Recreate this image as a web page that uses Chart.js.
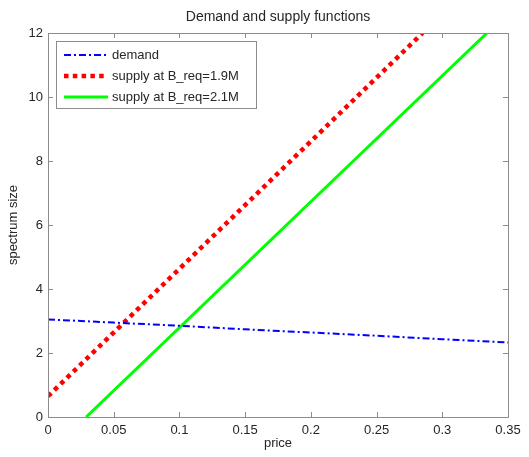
<!DOCTYPE html>
<html>
<head>
<meta charset="utf-8">
<script src="https://cdn.jsdelivr.net/npm/chart.js@4.4.0/dist/chart.umd.min.js"></script>
<style>
  body { margin: 0; background: #fff; }
  canvas { display: block; }
</style>
</head>
<body>
<canvas id="grafico" width="529" height="457"></canvas>
<script>
// datos
const precioDemanda = [0, 0.05, 0.1, 0.15, 0.2, 0.25, 0.3, 0.35];
const demanda = [3.05, 2.95, 2.85, 2.74, 2.64, 2.54, 2.43, 2.33];
const precioOferta19 = [0, 0.285];
const oferta19 = [0.65, 12];
const precioOferta21 = [0.029, 0.334];
const oferta21 = [0, 12];
const ticksX = [0, 0.05, 0.1, 0.15, 0.2, 0.25, 0.3, 0.35];
const ticksY = [0, 2, 4, 6, 8, 10, 12];

const fuente = "'Liberation Sans', Arial, sans-serif";
const colorTexto = '#262626';

function puntos(xs, ys) {
    return xs.map((x, i) => ({ x: x, y: ys[i] }));
}

// ticks hacia adentro en los cuatro lados, estilo matlab
const ticksAdentro = {
    id: 'ticksAdentro',
    afterDraw(chart) {
        const ctx = chart.ctx;
        const a = chart.chartArea;
        const sx = chart.scales.x, sy = chart.scales.y;
        ctx.save();
        ctx.strokeStyle = '#8c8c8c';
        ctx.lineWidth = 1;
        ctx.beginPath();
        ticksX.forEach(v => {
            const px = Math.round(sx.getPixelForValue(v)) + 0.5;
            ctx.moveTo(px, a.bottom); ctx.lineTo(px, a.bottom - 5);
            ctx.moveTo(px, a.top); ctx.lineTo(px, a.top + 5);
        });
        ticksY.forEach(v => {
            const py = Math.round(sy.getPixelForValue(v)) + 0.5;
            ctx.moveTo(a.left, py); ctx.lineTo(a.left + 5, py);
            ctx.moveTo(a.right, py); ctx.lineTo(a.right - 5, py);
        });
        ctx.stroke();
        ctx.strokeRect(Math.round(a.left) + 0.5, Math.round(a.top) + 0.5,
            Math.round(a.right - a.left), Math.round(a.bottom - a.top));
        ctx.restore();
    }
};

// leyenda dibujada dentro del area del grafico
const leyenda = {
    id: 'leyenda',
    afterDraw(chart) {
        const ctx = chart.ctx;
        const x0 = 56, y0 = 41, w = 200, h = 67;
        ctx.save();
        ctx.fillStyle = '#fff';
        ctx.fillRect(x0, y0, w, h);
        ctx.strokeStyle = '#8c8c8c';
        ctx.lineWidth = 1;
        ctx.strokeRect(x0 + 0.5, y0 + 0.5, w, h);
        const filas = [55, 76, 97];
        chart.data.datasets.forEach((ds, i) => {
            const y = filas[i];
            ctx.beginPath();
            ctx.strokeStyle = ds.borderColor;
            ctx.lineWidth = ds.borderWidth;
            ctx.setLineDash(ds.borderDash || []);
            ctx.lineCap = 'butt';
            ctx.moveTo(64, y);
            ctx.lineTo(108, y);
            ctx.stroke();
            ctx.setLineDash([]);
            ctx.fillStyle = colorTexto;
            ctx.font = '13px ' + fuente;
            ctx.textBaseline = 'middle';
            ctx.fillText(ds.label, 112, y);
        });
        ctx.restore();
    }
};

const config = {
    type: 'scatter',
    data: {
        datasets: [
            {
                label: 'demand',
                data: puntos(precioDemanda, demanda),
                showLine: true,
                borderColor: '#0000ff',
                borderWidth: 2,
                borderDash: [7, 3, 2, 3],
                pointRadius: 0,
                fill: false
            },
            {
                label: 'supply at B_req=1.9M',
                data: puntos(precioOferta19, oferta19),
                showLine: true,
                borderColor: '#ff0000',
                borderWidth: 4.5,
                borderDash: [4.5, 4.3],
                pointRadius: 0,
                fill: false
            },
            {
                label: 'supply at B_req=2.1M',
                data: puntos(precioOferta21, oferta21),
                showLine: true,
                borderColor: '#00ff00',
                borderWidth: 3,
                pointRadius: 0,
                fill: false
            }
        ]
    },
    options: {
        responsive: false,
        animation: false,
        layout: { padding: { top: 33, right: 21, left: 0, bottom: 0 } },
        plugins: {
            legend: { display: false },
            tooltip: { enabled: false },
            title: { display: false }
        },
        scales: {
            x: {
                type: 'linear',
                min: 0,
                max: 0.35,
                afterBuildTicks: s => { s.ticks = ticksX.map(v => ({ value: v })); },
                afterFit: s => { s.height = 40; },
                grid: { display: false, drawTicks: false },
                border: { display: false },
                ticks: {
                    color: colorTexto,
                    font: { family: fuente, size: 13 },
                    padding: 6,
                    maxRotation: 0,
                    callback: v => String(v)
                },
                title: {
                    display: true,
                    text: 'price',
                    color: colorTexto,
                    font: { family: fuente, size: 13 },
                    padding: { top: 0, bottom: 6 }
                }
            },
            y: {
                type: 'linear',
                min: 0,
                max: 12,
                afterBuildTicks: s => { s.ticks = ticksY.map(v => ({ value: v })); },
                afterFit: s => { s.width = 48; },
                grid: { display: false, drawTicks: false },
                border: { display: false },
                ticks: {
                    color: colorTexto,
                    font: { family: fuente, size: 13 },
                    padding: 5
                },
                title: {
                    display: true,
                    text: 'spectrum size',
                    color: colorTexto,
                    font: { family: fuente, size: 13 },
                    padding: { top: 6, bottom: 0 }
                }
            }
        }
    },
    plugins: [ticksAdentro, leyenda, {
        id: 'titulo',
        afterDraw(chart) {
            const ctx = chart.ctx;
            const a = chart.chartArea;
            ctx.save();
            ctx.fillStyle = colorTexto;
            ctx.font = '14px ' + fuente;
            ctx.textAlign = 'center';
            ctx.textBaseline = 'middle';
            ctx.fillText('Demand and supply functions', (a.left + a.right) / 2, 17);
            ctx.restore();
        }
    }]
};

new Chart(document.getElementById('grafico').getContext('2d'), config);
</script>
</body>
</html>
